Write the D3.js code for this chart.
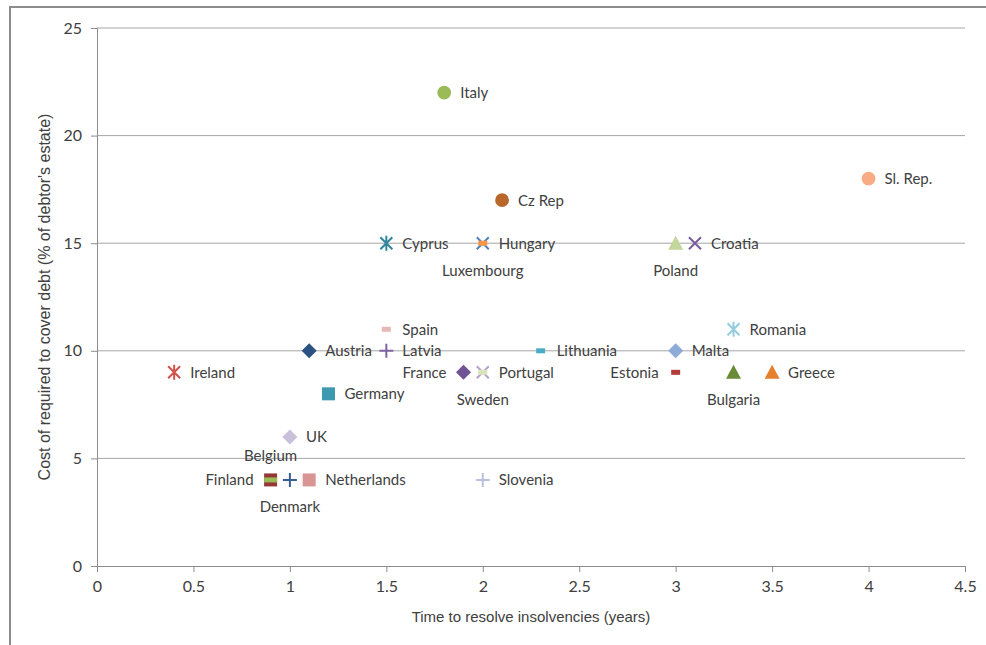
<!DOCTYPE html>
<html>
<head>
<meta charset="utf-8">
<script src="https://cdn.jsdelivr.net/npm/d3@7"></script>
<style>
  body { margin: 0; background: #fff; }
  svg text { font-family: Lato, "DejaVu Sans", sans-serif; fill: #404040; }
</style>
</head>
<body>
<svg id="chart" width="986" height="645"></svg>
<script>
"use strict";

// data
const countries = ["Luxembourg", "Hungary", "Italy", "Cz Rep", "Sl. Rep.", "Cyprus", "Poland", "Croatia",
    "Spain", "Latvia", "Austria", "Lithuania", "Romania", "Malta", "Ireland", "France", "Sweden", "Portugal",
    "Estonia", "Bulgaria", "Greece", "Germany", "UK", "Belgium", "Finland", "Denmark", "Netherlands", "Slovenia"];
const years = [2.0, 2.0, 1.8, 2.1, 4.0, 1.5, 3.0, 3.1,
    1.5, 1.5, 1.1, 2.3, 3.3, 3.0, 0.4, 1.9, 2.0, 2.0,
    3.0, 3.3, 3.5, 1.2, 1.0, 0.9, 0.9, 1.0, 1.1, 2.0];
const cost = [15, 15, 22, 17, 18, 15, 15, 15,
    11, 10, 10, 10, 11, 10, 9, 9, 9, 9,
    9, 9, 9, 8, 6, 4, 4, 4, 4, 4];
const xTicks = [0, 0.5, 1, 1.5, 2, 2.5, 3, 3.5, 4, 4.5];
const yTicks = [0, 5, 10, 15, 20, 25];

// marker style and label placement per country
const style = {
    "Luxembourg": {shape: "x", color: "#4f81bd", lab: "below"},
    "Hungary": {shape: "dash", color: "#f79646", lab: "right"},
    "Italy": {shape: "circle", color: "#9bbb59", lab: "right"},
    "Cz Rep": {shape: "circle", color: "#b9672a", lab: "right"},
    "Sl. Rep.": {shape: "circle", color: "#f9ab86", lab: "right"},
    "Cyprus": {shape: "star", color: "#31859c", lab: "right"},
    "Poland": {shape: "triangle", color: "#c3d69b", lab: "below"},
    "Croatia": {shape: "x", color: "#7a5c9e", lab: "right"},
    "Spain": {shape: "dash", color: "#e6b9b8", lab: "right"},
    "Latvia": {shape: "plus", color: "#8064a2", lab: "right"},
    "Austria": {shape: "diamond", color: "#2c5283", lab: "right"},
    "Lithuania": {shape: "dash", color: "#4bacc6", lab: "right"},
    "Romania": {shape: "star", color: "#93cddd", lab: "right"},
    "Malta": {shape: "diamond", color: "#8eaad6", lab: "right"},
    "Ireland": {shape: "star", color: "#d0514d", lab: "right"},
    "France": {shape: "diamond", color: "#6f5394", lab: "left"},
    "Sweden": {shape: "x", color: "#b3a2c7", lab: "below"},
    "Portugal": {shape: "dash", color: "#d7e4bc", lab: "right"},
    "Estonia": {shape: "dash", color: "#b13b37", lab: "left"},
    "Bulgaria": {shape: "triangle", color: "#6a8a35", lab: "below"},
    "Greece": {shape: "triangle", color: "#e5802f", lab: "right"},
    "Germany": {shape: "square", color: "#3d99b0", lab: "right"},
    "UK": {shape: "diamond", color: "#cbc0da", lab: "right"},
    "Belgium": {shape: "square", color: "#953735", lab: "above"},
    "Finland": {shape: "bar", color: "#9bbb59", lab: "left"},
    "Denmark": {shape: "plus", color: "#376092", lab: "below"},
    "Netherlands": {shape: "square", color: "#d99594", lab: "right"},
    "Slovenia": {shape: "plus", color: "#b9c3e0", lab: "right"}
};

const svg = d3.select("#chart");
const margin = {left: 97, right: 21, top: 28, bottom: 79};
const W = 986, H = 645;

const x = d3.scaleLinear().domain([0, 4.5]).range([margin.left, W - margin.right]);
const y = d3.scaleLinear().domain([0, 25]).range([H - margin.bottom, margin.top]);

// outer frame (left and top only, like the reference)
svg.append("path")
    .attr("d", `M10,${H} V7 H${W}`)
    .attr("fill", "none")
    .attr("stroke", "#8c8c8c")
    .attr("stroke-width", 2);

// gridlines
svg.append("g")
    .selectAll("line")
    .data(yTicks.filter(d => d > 0))
    .join("line")
    .attr("x1", x(0)).attr("x2", x(4.5))
    .attr("y1", d => y(d)).attr("y2", d => y(d))
    .attr("stroke", "#a6a6a6")
    .attr("stroke-width", 1);

// axes
const xAxis = svg.append("g")
    .attr("transform", `translate(0,${y(0)})`)
    .call(d3.axisBottom(x).tickValues(xTicks).tickSize(6).tickPadding(9).tickFormat(d3.format("")));
const yAxis = svg.append("g")
    .attr("transform", `translate(${x(0)},0)`)
    .call(d3.axisLeft(y).tickValues(yTicks).tickSize(6).tickPadding(9));

[xAxis, yAxis].forEach(a => {
    a.select(".domain").attr("stroke", "#8c8c8c");
    a.selectAll(".tick line").attr("stroke", "#8c8c8c");
    a.selectAll(".tick text")
        .style("font-family", "Lato, sans-serif")
        .style("font-size", "16px")
        .style("fill", "#404040");
});

// axis titles
svg.append("text")
    .attr("x", (x(0) + x(4.5)) / 2)
    .attr("y", 622)
    .attr("text-anchor", "middle")
    .style("font-family", "'Liberation Sans Narrow', sans-serif")
    .style("font-size", "15px")
    .text("Time to resolve insolvencies (years)");

svg.append("text")
    .attr("transform", `translate(50,${(y(0) + y(25)) / 2}) rotate(-90)`)
    .attr("text-anchor", "middle")
    .style("font-family", "'Liberation Sans Narrow', sans-serif")
    .style("font-size", "16px")
    .text("Cost of required to cover debt (% of debtor's estate)");

// markers
const pts = countries.map((c, i) => ({name: c, x: years[i], y: cost[i], s: style[c]}));

const symbolPath = function(shape){
    switch (shape) {
        case "circle": return d3.symbol(d3.symbolCircle, 150)();
        case "diamond": return "M0,-7.5L7.5,0L0,7.5L-7.5,0Z";
        case "square": return "M-6.5,-6.5H6.5V6.5H-6.5Z";
        case "triangle": return "M0,-7.5L7.5,6.5L-7.5,6.5Z";
        default: return null;
    }
};

const marks = svg.append("g")
    .selectAll("g")
    .data(pts)
    .join("g")
    .attr("transform", d => `translate(${x(d.x)},${y(d.y)})`);

marks.each(function(d){
    const g = d3.select(this);
    const sh = d.s.shape;
    if (sh === "x" || sh === "star" || sh === "plus") {
        let p = "";
        if (sh === "x" || sh === "star") p += "M-6,-6L6,6M-6,6L6,-6";
        if (sh === "star") p += "M0,-7.5V7.5";
        if (sh === "plus") p += "M-7,0H7M0,-7V7";
        g.append("path").attr("d", p)
            .attr("fill", "none")
            .attr("stroke", d.s.color)
            .attr("stroke-width", 2);
    } else if (sh === "dash" || sh === "bar") {
        const w = sh === "bar" ? 13 : 9;
        g.append("rect")
            .attr("x", -w / 2).attr("y", -2.5)
            .attr("width", w).attr("height", 5)
            .attr("fill", d.s.color);
    } else {
        g.append("path").attr("d", symbolPath(sh)).attr("fill", d.s.color);
    }
});

// country labels
svg.append("g")
    .selectAll("text")
    .data(pts)
    .join("text")
    .attr("x", d => {
        const px = x(d.x);
        if (d.s.lab === "right") return px + 16;
        if (d.s.lab === "left") return px - 17;
        return px;
    })
    .attr("y", d => {
        const py = y(d.y);
        if (d.s.lab === "below") return py + 27;
        if (d.s.lab === "above") return py - 24;
        return py;
    })
    .attr("dy", "0.36em")
    .attr("text-anchor", d => d.s.lab === "right" ? "start" : d.s.lab === "left" ? "end" : "middle")
    .style("font-size", "15px")
    .text(d => d.name);
</script>
</body>
</html>
